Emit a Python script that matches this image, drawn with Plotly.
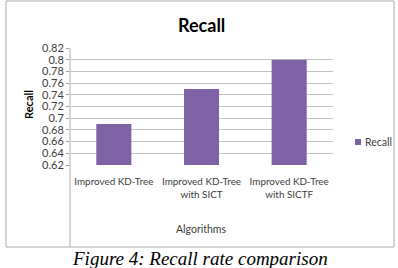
import plotly.graph_objects as go

categories = ["Improved KD-Tree", "Improved KD-Tree<br>with SICT", "Improved KD-Tree<br>with SICTF"]
recall = [0.69, 0.75, 0.80]
series_name = "Recall"
y_ticks = [0.62, 0.64, 0.66, 0.68, 0.70, 0.72, 0.74, 0.76, 0.78, 0.80, 0.82]
y_tick_text = ["0.62", "0.64", "0.66", "0.68", "0.7", "0.72", "0.74", "0.76", "0.78", "0.8", "0.82"]

W, H = 398, 268
L, R, T, B = 70, 65, 48, 103
PW, PH = W - L - R, H - T - B

def px(x):
    return (x - L) / PW

def py(y):
    return (H - B - y) / PH

BAR = "#7f62a6"
fig = go.Figure()
fig.add_trace(go.Bar(x=categories, y=recall, name=series_name, showlegend=False,
                     marker=dict(color=BAR, line=dict(width=0))))

fig.update_layout(
    width=W, height=H,
    margin=dict(l=L, r=R, t=T, b=B),
    paper_bgcolor="white", plot_bgcolor="white",
    bargap=0.6,
    showlegend=False,
    font=dict(family="Lato, sans-serif", color="#404040"),
)
fig.update_yaxes(range=[0.62, 0.82], tickvals=y_ticks, ticktext=y_tick_text,
                 showgrid=True, gridcolor="#c0c0c0", gridwidth=1,
                 ticks="outside", ticklen=3, tickcolor="#a0a0a0",
                 tickfont=dict(size=11, color="#404040"), zeroline=False,
                 showline=False)
fig.update_xaxes(tickfont=dict(size=9.9, color="#404040"), ticks="", showline=False,
                 tickangle=0, ticklabelstandoff=9)

# legend (manual, compact like the original)
fig.add_shape(type="rect", xref="paper", yref="paper", x0=px(355), x1=px(361), y0=py(145), y1=py(139),
              fillcolor=BAR, line=dict(width=0))
fig.add_annotation(text=series_name, xref="paper", yref="paper", x=px(362.5), y=py(142),
                   showarrow=False, font=dict(family="Lato, sans-serif", size=10.5, color="#404040"),
                   xanchor="left", yanchor="middle")
# title
fig.add_annotation(text="<b>Recall</b>", xref="paper", yref="paper", x=px(201), y=py(25),
                   showarrow=False, font=dict(family="Lato, sans-serif", size=18, color="#000000"),
                   xanchor="center", yanchor="middle")
# y title
fig.add_annotation(text="<b>Recall</b>", xref="paper", yref="paper", x=px(28), y=py(105),
                   showarrow=False, textangle=-90, font=dict(family="Lato, sans-serif", size=11, color="#000000"),
                   xanchor="center", yanchor="middle")
# x title
fig.add_annotation(text="Algorithms", xref="paper", yref="paper", x=px(201), y=py(229),
                   showarrow=False, font=dict(family="Lato, sans-serif", size=10.5, color="#404040"),
                   xanchor="center", yanchor="middle")
# caption
fig.add_annotation(text="<i>Figure 4: Recall rate comparison</i>", xref="paper", yref="paper",
                   x=px(200), y=py(258), showarrow=False,
                   font=dict(family="Liberation Serif, Times New Roman, serif", size=19, color="#000000"),
                   xanchor="center", yanchor="middle")

# chart border
fig.add_shape(type="rect", xref="paper", yref="paper", x0=px(6), x1=px(394), y0=py(247), y1=py(1),
              line=dict(color="#a8a8a8", width=1), layer="below")
# axis line
fig.add_shape(type="line", xref="paper", yref="paper", x0=px(70), x1=px(70), y0=py(247), y1=py(48),
              line=dict(color="#b0b0b0", width=1), layer="below")

fig.write_html("out.html")
